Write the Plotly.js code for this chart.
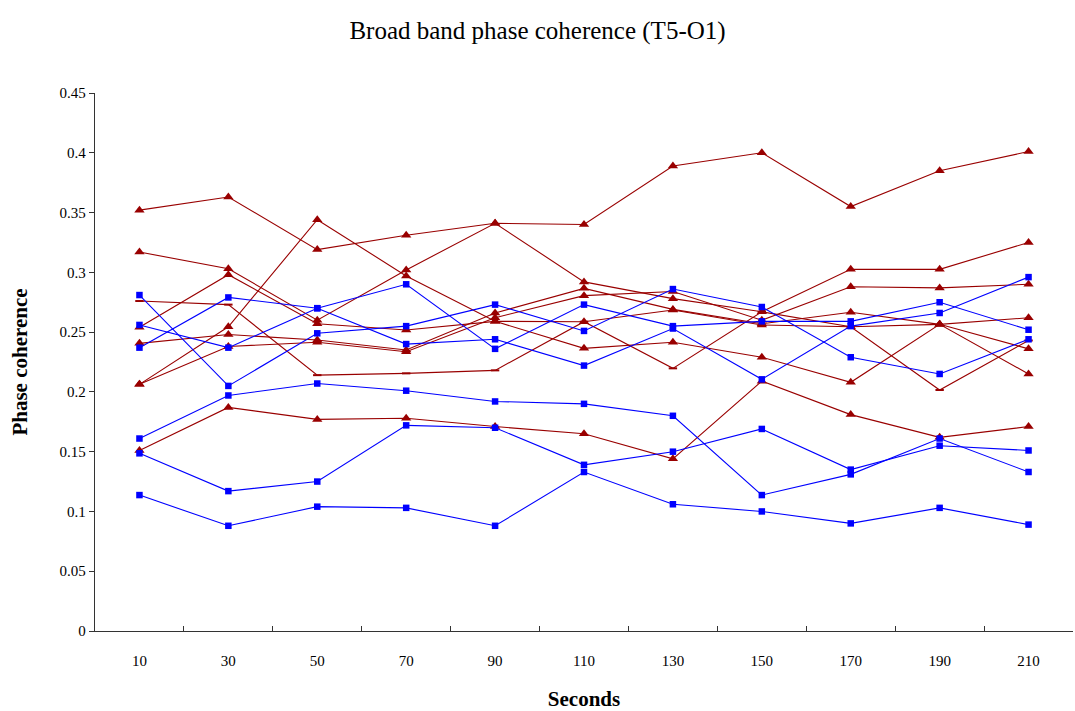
<!DOCTYPE html>
<html><head><meta charset="utf-8">
<script src="https://cdn.plot.ly/plotly-3.0.1.min.js"></script>
<style>html,body{margin:0;padding:0;background:#fff}#chart{width:1075px;height:711px}</style>
</head><body><div id="chart"></div>
<script>
// Categories (seconds)
const seconds = ['10','30','50','70','90','110','130','150','170','190','210'];
const yTickVals = [0,0.05,0.1,0.15,0.2,0.25,0.3,0.35,0.4,0.45];
const yTickText = ['0','0.05','0.1','0.15','0.2','0.25','0.3','0.35','0.4','0.45'];

// Blue series (square markers)
const blue1 = [0.281,0.205,0.249,0.255,0.273,0.251,0.286,0.271,0.229,0.215,0.244];
const blue2 = [0.256,0.237,0.270,0.290,0.236,0.273,0.255,0.259,0.259,0.275,0.252];
const blue3 = [0.237,0.279,0.270,0.240,0.244,0.222,0.253,0.2105,0.255,0.266,0.296];
const blue4 = [0.161,0.197,0.207,0.201,0.192,0.190,0.180,0.1137,0.131,0.161,0.133];
const blue5 = [0.1486,0.117,0.125,0.172,0.170,0.139,0.150,0.169,0.135,0.155,0.151];
const blue6 = [0.1137,0.088,0.104,0.103,0.088,0.133,0.106,0.100,0.090,0.103,0.089];

// Dark red series (triangle markers)
const red1 = [0.352,0.363,0.319,0.331,0.341,0.340,0.389,0.400,0.355,0.385,0.401];
const red2 = [0.317,0.303,0.260,0.302,0.341,0.292,0.278,0.267,0.3025,0.3025,0.325];
const red3 = [0.254,0.298,0.257,0.2518,0.259,0.2587,0.2685,0.256,0.2545,0.2565,0.236];
const red4 = [0.2406,0.248,0.2434,0.235,0.266,0.2866,0.269,0.257,0.2666,0.2565,0.262];
const red5 = [0.2063,0.2545,0.344,0.297,0.259,0.2364,0.2415,0.229,0.208,0.2565,0.215];
const red6 = [0.2063,0.238,0.2415,0.2336,0.262,0.2805,0.284,0.260,0.288,0.287,0.290];
const red7 = [0.151,0.187,0.177,0.178,0.171,0.165,0.144,0.209,0.181,0.162,0.171];
// Dark red series with dash markers
const redDash = [0.276,0.273,0.214,0.2155,0.218,0.2587,0.2197,0.267,0.2545,0.2016,0.243];

const BLUE = '#0000FF', RED = '#990000';
const blueSeries = [blue1,blue2,blue3,blue4,blue5,blue6];
const redSeries = [red1,red2,red3,red4,red5,red6,red7];

const traces = [];
traces.push({x: seconds, y: redDash, type:'scatter', mode:'lines+markers',
  line:{color:RED,width:1.1}, marker:{symbol:'line-ew',size:6,line:{color:RED,width:2}}, hoverinfo:'y'});
redSeries.forEach(s => traces.push({x: seconds, y: s, type:'scatter', mode:'lines+markers',
  line:{color:RED,width:1.1}, marker:{symbol:'triangle-up',size:9,color:RED}, hoverinfo:'y'}));
blueSeries.forEach(s => traces.push({x: seconds, y: s, type:'scatter', mode:'lines+markers',
  line:{color:BLUE,width:1.1}, marker:{symbol:'square',size:6.5,color:BLUE}, hoverinfo:'y'}));

const fontFam = '"Liberation Serif", "Times New Roman", serif';
const layout = {
  width:1075, height:711,
  paper_bgcolor:'#fff', plot_bgcolor:'#fff',
  showlegend:false,
  margin:{l:95, r:2, t:93, b:80},
  font:{family:fontFam, color:'#000', size:14},
  title:{text:'Broad band phase coherence (T5-O1)', font:{family:fontFam,size:25,color:'#000'},
    x:0.5, xanchor:'center', y:0.958, yanchor:'middle'},
  xaxis:{type:'category', categoryorder:'array', categoryarray:seconds, range:[-0.5,10.5],
    showline:true, linecolor:'#333', linewidth:1.3, showgrid:false, zeroline:false,
    ticks:'inside', tickson:'boundaries', ticklen:5, tickcolor:'#333', tickwidth:1,
    ticklabelstandoff:16,
    tickfont:{family:fontFam,size:15,color:'#000'},
    title:{text:'<b>Seconds</b>', font:{family:fontFam,size:21,color:'#000'}, standoff:25}},
  yaxis:{range:[0,0.45], tickvals:yTickVals, ticktext:yTickText,
    showline:true, linecolor:'#333', linewidth:1.3, showgrid:false, zeroline:false,
    ticks:'outside', ticklen:5, tickcolor:'#333', tickwidth:1,
    tickfont:{family:fontFam,size:15,color:'#000'},
    title:{text:'<b>Phase coherence</b>', font:{family:fontFam,size:21,color:'#000'}, standoff:26}}
};
Plotly.newPlot('chart', traces, layout, {displayModeBar:false, staticPlot:true});
</script>
</body></html>
